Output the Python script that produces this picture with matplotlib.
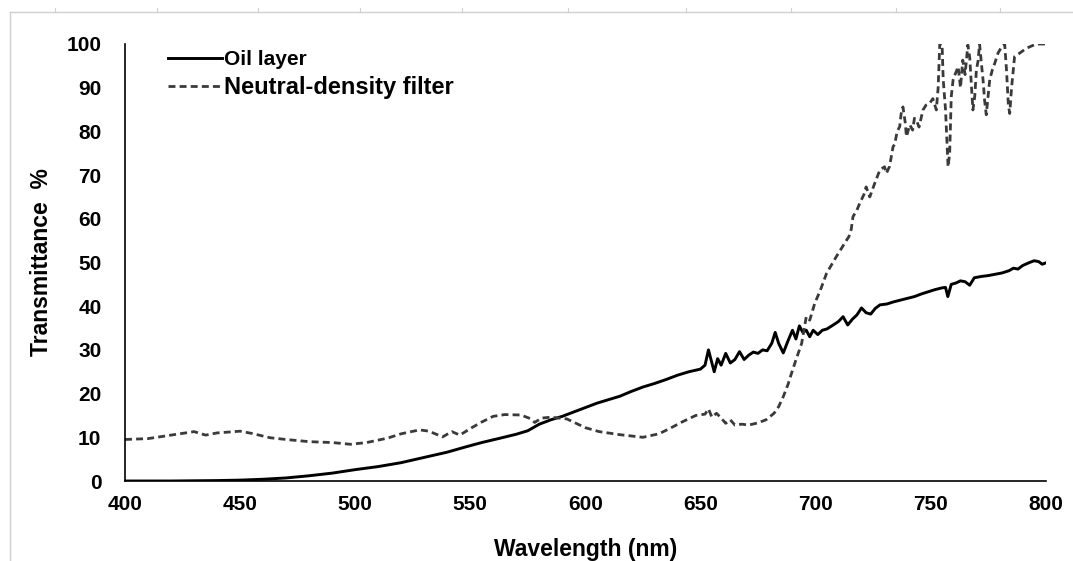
import matplotlib.pyplot as plt
from matplotlib.lines import Line2D

# ------------------ data ------------------
oil_wl = [400, 420, 440, 450, 460, 470, 480, 490, 500, 510, 520, 530, 540, 548, 555,
          563, 570, 575, 580, 585, 590, 595, 600, 605, 610, 615, 620, 625, 630, 635,
          640, 645, 650, 652, 653.5, 655, 656, 657.5, 659, 661, 663, 665, 667, 669,
          671, 673, 675, 677, 679, 681, 682.5, 684, 686, 688, 690, 691.5, 693, 694.5,
          696, 697.5, 699, 701, 703, 705, 708, 710, 712, 714, 716, 718, 720, 722, 724,
          726, 728, 731, 734, 737, 740, 743, 746, 749, 752, 755, 756.5, 757.5, 759,
          761, 763, 765, 767, 769, 772, 775, 778, 781, 784, 786, 788, 790, 793, 795,
          797, 798.5, 800]
oil_t = [0.0, 0.0, 0.1, 0.2, 0.4, 0.7, 1.2, 1.8, 2.6, 3.3, 4.2, 5.4, 6.6, 7.8, 8.8,
         9.8, 10.7, 11.5, 13.0, 14.0, 14.8, 15.8, 16.8, 17.8, 18.6, 19.4, 20.5, 21.5, 22.3, 23.2,
         24.2, 25.0, 25.6, 26.5, 30.0, 27.0, 25.0, 28.0, 26.5, 29.2, 27.0, 27.8, 29.6, 27.8,
         28.8, 29.5, 29.2, 30.0, 29.8, 31.5, 34.0, 31.5, 29.3, 32.0, 34.5, 32.5, 35.5, 34.0,
         34.5, 33.0, 34.5, 33.5, 34.5, 34.8, 35.8, 36.5, 37.6, 35.7, 37.0, 38.0, 39.6, 38.5, 38.2,
         39.5, 40.3, 40.5, 41.0, 41.4, 41.8, 42.2, 42.8, 43.3, 43.8, 44.2, 44.3, 42.2, 45.0,
         45.3, 45.8, 45.6, 44.8, 46.5, 46.8, 47.0, 47.3, 47.6, 48.1, 48.7, 48.5, 49.3, 50.0, 50.4,
         50.2, 49.6, 49.9]

nd_wl = [400, 410, 420, 430, 435, 440, 450, 455, 463, 470, 480, 490, 498, 505, 514,
         520, 528, 532, 538, 542, 545.5, 550, 555, 560, 565, 572, 576, 578, 581, 585,
         592, 600, 606, 615, 625, 632, 637, 642, 648, 652, 653.5, 655, 657, 659, 661,
         663, 665, 668, 671, 675, 678.5, 682, 684, 686, 688, 689.5, 691.5, 694, 696,
         697.5, 699.7, 702, 704.8, 707, 709, 711, 713.5, 714.5, 715.5, 716.3, 718, 719.2,
         721, 722, 723.6, 726, 728, 730, 730.8, 732.2, 733.7, 734.4, 735.5, 736.6, 737.2,
         738, 739, 739.5, 741, 742.2, 743, 743.8, 745, 746.7, 748, 749.6, 751, 752.5,
         753.3, 754, 755, 755.5, 756.5, 757.6, 758.3, 759, 759.8, 761, 762, 763, 764,
         765, 766.2, 767, 768.4, 769.2, 769.9, 770.6, 771.3, 772, 772.8, 773.5, 774.2,
         775, 775.7, 776.8, 777.9, 779.3, 780.5, 782.2, 783, 783.8, 784.4, 785.2, 786.5,
         788.7, 791.6, 795, 797.3, 800]
nd_t = [9.5, 9.7, 10.5, 11.3, 10.5, 11.0, 11.4, 10.9, 9.9, 9.5, 9.0, 8.8, 8.4, 8.8, 9.8,
        10.8, 11.7, 11.4, 10.1, 11.3, 10.5, 12.0, 13.5, 14.8, 15.2, 15.1, 14.3, 13.4, 14.4, 14.6,
        14.2, 12.2, 11.3, 10.6, 10.0, 10.8, 12.1, 13.5, 15.0, 15.3, 16.5, 14.6, 15.5, 14.4, 13.2,
        14.0, 12.8, 13.0, 12.8, 13.3, 14.0, 15.5, 17.0, 19.3, 22.0, 24.5, 27.7, 31.5, 37.6,
        36.8, 40.7, 43.5, 47.5, 49.5, 51.3, 53.0, 55.1, 55.9, 57.5, 60.5, 62.0, 63.5,
        65.5, 67.3, 65.0, 68.5, 71.2, 71.9, 70.4, 72.0, 76.5, 77.0, 80.0, 81.1, 84.0,
        85.6, 82.0, 78.8, 81.5, 80.3, 83.0, 82.6, 81.0, 84.9, 86.0, 86.4, 87.5, 84.9,
        90.0, 100, 100, 91.8, 85.0, 71.9, 75.0, 88.0, 91.8, 93.5, 94.8, 90.0, 96.3,
        93.0, 99.8, 97.0, 84.9, 88.0, 94.0, 96.0, 100, 96.0, 91.8, 87.0, 83.8,
        88.0, 91.8, 94.0, 95.6, 97.9, 99.0, 100, 94.0, 86.0, 84.1, 90.0, 97.1,
        97.9, 99.0, 99.8, 100, 100]

x_ticks = [400, 450, 500, 550, 600, 650, 700, 750, 800]
y_ticks = [0, 10, 20, 30, 40, 50, 60, 70, 80, 90, 100]
# -------------------------------------------------------------

plt.rcParams['font.family'] = ['Liberation Sans', 'DejaVu Sans']
plt.rcParams['font.weight'] = 'bold'

fig = plt.figure(figsize=(10.73, 5.61), dpi=100)
ax = fig.add_axes([0.1165, 0.1426, 0.858, 0.779])

ax.plot(oil_wl, oil_t, color='black', lw=2.1, solid_joinstyle='round')
ax.plot(nd_wl, nd_t, color='#3a3a3a', lw=2.0, ls=(0, (2.5, 1.5)))

ax.set_xlim(400, 800)
ax.set_ylim(0, 100)
ax.set_xticks(x_ticks)
ax.set_yticks(y_ticks)
ax.tick_params(length=0, labelsize=15)
ax.tick_params(axis='x', pad=10)
ax.tick_params(axis='y', pad=17)
for s in ['top', 'right']:
    ax.spines[s].set_visible(False)
for s in ['left', 'bottom']:
    ax.spines[s].set_linewidth(1.2)

ax.set_xlabel('Wavelength (nm)', fontsize=16.5, fontweight='bold', labelpad=17)
ax.set_ylabel('Transmittance  %', fontsize=16.5, fontweight='bold', labelpad=10)

# legend: two entries with different text sizes as in the source
handles = [Line2D([], [], color='black', lw=2.1),
           Line2D([], [], color='#3a3a3a', lw=2.0, ls=(0, (2.5, 1.5)))]
leg = ax.legend(handles, ['Oil layer', 'Neutral-density filter'], loc='upper left',
                bbox_to_anchor=(0.026, 1.028), frameon=False, handlelength=2.6,
                handletextpad=0.1, labelspacing=0.3, fontsize=15)
leg.get_texts()[1].set_fontsize(17)

# faint screenshot frame around the chart
fig.add_artist(Line2D([0.009, 1.0], [0.979, 0.979], color='#d0d0d0', lw=1))
fig.add_artist(Line2D([0.009, 0.009], [0.0, 0.979], color='#d0d0d0', lw=1))
for xt in [55, 157, 258, 360, 462, 568, 686, 791, 896, 1000]:
    fig.add_artist(Line2D([xt / 1073, xt / 1073], [0.979, 0.986], color='#d0d0d0', lw=0.8))

fig.savefig('out.png', dpi=100)
